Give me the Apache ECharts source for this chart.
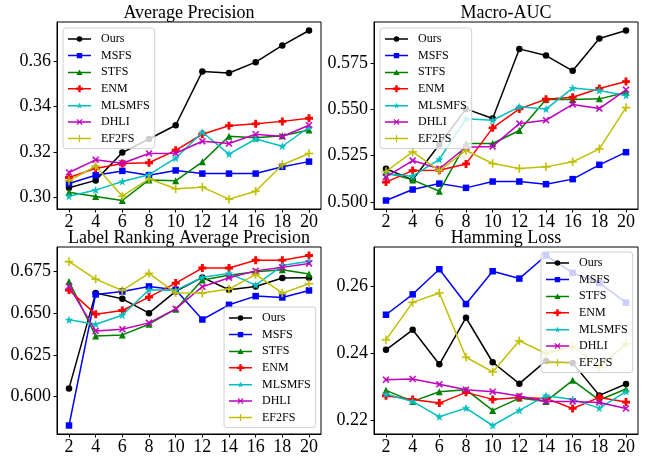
<!DOCTYPE html>
<html><head><meta charset="utf-8">
<script src="https://cdn.jsdelivr.net/npm/echarts@6/dist/echarts.min.js"></script>
<style>html,body{margin:0;padding:0;background:#fff}#c{width:650px;height:459px}</style>
</head><body><div id="c"></div>
<script>
const xValues = [2, 4, 6, 8, 10, 12, 14, 16, 18, 20];
const methods = ['Ours', 'MSFS', 'STFS', 'ENM', 'MLSMFS', 'DHLI', 'EF2FS'];

// Average Precision
const apOurs   = [0.3041, 0.3074, 0.3197, 0.3257, 0.3318, 0.3556, 0.3549, 0.3597, 0.3671, 0.3737];
const apMSFS   = [0.3060, 0.3097, 0.3116, 0.3097, 0.3118, 0.3104, 0.3104, 0.3104, 0.3134, 0.3157];
const apSTFS   = [0.3022, 0.3003, 0.2985, 0.3076, 0.3072, 0.3156, 0.3269, 0.3263, 0.3271, 0.3297];
const apENM    = [0.3087, 0.3127, 0.3149, 0.3152, 0.3207, 0.3278, 0.3316, 0.3324, 0.3335, 0.3349];
const apMLSMFS = [0.3004, 0.3031, 0.3069, 0.3099, 0.3172, 0.3287, 0.3190, 0.3257, 0.3225, 0.3309];
const apDHLI   = [0.3109, 0.3165, 0.3150, 0.3193, 0.3194, 0.3247, 0.3237, 0.3278, 0.3268, 0.3318];
const apEF2FS  = [0.3072, 0.3137, 0.3004, 0.3081, 0.3037, 0.3044, 0.2991, 0.3026, 0.3143, 0.3193];

// Macro-AUC
const aucOurs   = [0.5180, 0.5120, 0.5310, 0.5502, 0.5450, 0.5825, 0.5789, 0.5707, 0.5881, 0.5924];
const aucMSFS   = [0.5009, 0.5068, 0.5100, 0.5077, 0.5111, 0.5111, 0.5097, 0.5124, 0.5201, 0.5269];
const aucSTFS   = [0.5160, 0.5120, 0.5059, 0.5316, 0.5316, 0.5386, 0.5553, 0.5553, 0.5556, 0.5590];
const aucENM    = [0.5108, 0.5170, 0.5172, 0.5206, 0.5400, 0.5502, 0.5554, 0.5565, 0.5612, 0.5649];
const aucMLSMFS = [0.5150, 0.5140, 0.5230, 0.5449, 0.5441, 0.5513, 0.5501, 0.5614, 0.5601, 0.5574];
const aucDHLI   = [0.5136, 0.5224, 0.5180, 0.5296, 0.5300, 0.5423, 0.5441, 0.5526, 0.5504, 0.5605];
const aucEF2FS  = [0.5165, 0.5271, 0.5170, 0.5278, 0.5208, 0.5181, 0.5190, 0.5217, 0.5287, 0.5509];

// Label Ranking Average Precision
const lrOurs   = [0.6050, 0.6620, 0.6586, 0.6500, 0.6630, 0.6714, 0.6640, 0.6660, 0.6710, 0.6712];
const lrMSFS   = [0.5828, 0.6612, 0.6630, 0.6660, 0.6640, 0.6462, 0.6550, 0.6602, 0.6594, 0.6636];
const lrSTFS   = [0.6690, 0.6364, 0.6370, 0.6434, 0.6524, 0.6698, 0.6727, 0.6748, 0.6760, 0.6734];
const lrENM    = [0.6638, 0.6494, 0.6516, 0.6596, 0.6680, 0.6770, 0.6770, 0.6817, 0.6817, 0.6845];
const lrMLSMFS = [0.6460, 0.6434, 0.6488, 0.6640, 0.6636, 0.6715, 0.6738, 0.6668, 0.6785, 0.6810];
const lrDHLI   = [0.6660, 0.6394, 0.6404, 0.6442, 0.6526, 0.6658, 0.6712, 0.6753, 0.6774, 0.6797];
const lrEF2FS  = [0.6808, 0.6704, 0.6636, 0.6738, 0.6622, 0.6620, 0.6644, 0.6732, 0.6620, 0.6676];

// Hamming Loss
const hlOurs   = [0.2411, 0.2471, 0.2368, 0.2507, 0.2374, 0.2310, 0.2378, 0.2372, 0.2275, 0.2309];
const hlMSFS   = [0.2516, 0.2577, 0.2652, 0.2548, 0.2646, 0.2624, 0.2693, 0.2641, 0.2611, 0.2552];
const hlSTFS   = [0.2290, 0.2257, 0.2286, 0.2292, 0.2230, 0.2267, 0.2257, 0.2320, 0.2261, 0.2294];
const hlENM    = [0.2274, 0.2263, 0.2252, 0.2284, 0.2263, 0.2269, 0.2266, 0.2236, 0.2269, 0.2255];
const hlMLSMFS = [0.2279, 0.2257, 0.2211, 0.2237, 0.2185, 0.2230, 0.2274, 0.2263, 0.2237, 0.2286];
const hlDHLI   = [0.2322, 0.2324, 0.2308, 0.2292, 0.2286, 0.2273, 0.2257, 0.2257, 0.2254, 0.2236];
const hlEF2FS  = [0.2441, 0.2553, 0.2581, 0.2389, 0.2345, 0.2438, 0.2400, 0.2421, 0.2359, 0.2429];

const apTicks = [0.30, 0.32, 0.34, 0.36];
const aucTicks = [0.500, 0.525, 0.550, 0.575];
const lrTicks = [0.600, 0.625, 0.650, 0.675];
const hlTicks = [0.22, 0.24, 0.26];

const FONT = "'Liberation Serif','DejaVu Serif',serif";
const colors = {Ours:'#000000', MSFS:'#0000ff', STFS:'#008000', ENM:'#ff0000', MLSMFS:'#00bfbf', DHLI:'#bf00bf', EF2FS:'#bfbf00'};
const symbols = {
  Ours: ['circle', 6.5],
  MSFS: ['rect', 6.5],
  STFS: ['triangle', 7],
  ENM: ['path://M1.6,0H3.4V1.6H5V3.4H3.4V5H1.6V3.4H0V1.6H1.6Z', 8],
  MLSMFS: ['path://M2.5,0L3.1,1.8L5,1.8L3.45,2.95L4.05,4.75L2.5,3.65L0.95,4.75L1.55,2.95L0,1.8L1.9,1.8Z', 7],
  DHLI: ['path://M0,0.65L0.65,0L2.5,1.85L4.35,0L5,0.65L3.15,2.5L5,4.35L4.35,5L2.5,3.15L0.65,5L0,4.35L1.85,2.5Z', 6.5],
  EF2FS: ['path://M2.15,0H2.85V2.15H5V2.85H2.85V5H2.15V2.85H0V2.15H2.15Z', 8]
};
// legend handles: line + marker, drawn in a 230 x 80 box (0.1 px units)
const LINE = 'M0,32.5H115V47.5H0Z M115,32.5H230V47.5H115Z ';
const legendMarks = {
  Ours: 'M87,40A28,28 0 1 1 143,40A28,28 0 1 1 87,40Z',
  MSFS: 'M88,13H142V67H88Z',
  STFS: 'M115,10L146,64L84,64Z',
  ENM: 'M103,5H127V28H150V52H127V75H103V52H80V28H103Z',
  MLSMFS: 'M115,7L122.6,29.5L146.4,29.8L127.4,44L134.4,66.7L115,53L95.6,66.7L102.6,44L83.6,29.8L107.4,29.5Z',
  DHLI: 'M85,18.5L93.5,10L115,31.5L136.5,10L145,18.5L123.5,40L145,61.5L136.5,70L115,48.5L93.5,70L85,61.5L106.5,40Z',
  EF2FS: 'M109,5H121V34H150V46H121V75H109V46H80V34H109Z'
};

const panels = [
  {title:'Average Precision', data:[apOurs, apMSFS, apSTFS, apENM, apMLSMFS, apDHLI, apEF2FS], ticks:apTicks, dec:2,
   grid:{left:57, top:22}, legend:{left:63, top:28}},
  {title:'Macro-AUC', data:[aucOurs, aucMSFS, aucSTFS, aucENM, aucMLSMFS, aucDHLI, aucEF2FS], ticks:aucTicks, dec:3,
   grid:{left:374, top:22}, legend:{left:380, top:28}},
  {title:'Label Ranking Average Precision', data:[lrOurs, lrMSFS, lrSTFS, lrENM, lrMLSMFS, lrDHLI, lrEF2FS], ticks:lrTicks, dec:3,
   grid:{left:57, top:247}, legend:{left:224, top:307}},
  {title:'Hamming Loss', data:[hlOurs, hlMSFS, hlSTFS, hlENM, hlMLSMFS, hlDHLI, hlEF2FS], ticks:hlTicks, dec:2,
   grid:{left:374, top:247}, legend:{left:541, top:252}}
];
const GW = 264, GH = 187;

const option = {animation:false, backgroundColor:'#fff', title:[], grid:[], xAxis:[], yAxis:[], legend:[], series:[]};
panels.forEach((p, pi) => {
  const all = [].concat(...p.data);
  const mn = Math.min(...all), mx = Math.max(...all), pad = (mx - mn) * 0.05;
  option.grid.push({left:p.grid.left, top:p.grid.top, width:GW, height:GH, show:true, borderColor:'#000', borderWidth:1, backgroundColor:'transparent', containLabel:false});
  option.title.push({text:p.title, left:p.grid.left + GW/2, top:p.grid.top - 17.5, textAlign:'center', padding:0,
    textStyle:{fontFamily:FONT, fontSize:18, fontWeight:'normal', color:'#000'}});
  option.xAxis.push({type:'value', gridIndex:pi, min:1.1, max:20.9,
    axisLine:{show:true, onZero:false, lineStyle:{color:'#000', width:1}},
    axisTick:{show:true, length:3.5, customValues:xValues, lineStyle:{color:'#000'}},
    axisLabel:{customValues:xValues, margin:4, fontFamily:FONT, fontSize:18, color:'#000'},
    splitLine:{show:false}});
  option.yAxis.push({type:'value', gridIndex:pi, min:mn - pad, max:mx + pad,
    axisLine:{show:true, onZero:false, lineStyle:{color:'#000', width:1}},
    axisTick:{show:true, length:3.5, customValues:p.ticks, lineStyle:{color:'#000'}},
    axisLabel:{customValues:p.ticks, margin:6, fontFamily:FONT, fontSize:18, color:'#000', formatter:v => Number(v).toFixed(p.dec)},
    splitLine:{show:false}});
  option.legend.push({data:methods.map(m => ({name:m, icon:'path://' + LINE + legendMarks[m]})),
    orient:'vertical', left:p.legend.left, top:p.legend.top,
    itemWidth:23, itemHeight:8, itemGap:2.6, padding:[4,5,3,5], symbolKeepAspect:true,
    itemStyle:{borderWidth:0},
    backgroundColor:'rgba(255,255,255,0.8)', borderColor:'#d0d0d0', borderWidth:1, borderRadius:3,
    textStyle:{fontFamily:FONT, fontSize:12, color:'#000', lineHeight:14, padding:[0,0,0,5]}, selectedMode:false});
  methods.forEach((m, mi) => {
    const s = symbols[m];
    const stroke = (m === 'DHLI' || m === 'EF2FS' || m === 'MLSMFS');
    option.series.push({type:'line', name:m, xAxisIndex:pi, yAxisIndex:pi,
      data:xValues.map((x, i) => [x, p.data[mi][i]]),
      symbol:s[0], symbolSize:s[1], showSymbol:true, showAllSymbol:true,
      lineStyle:{color:colors[m], width:1.5},
      itemStyle:{color:colors[m], borderColor:colors[m], borderWidth:stroke ? 0.5 : 0},
      emphasis:{disabled:true}, z:2 + mi * 0.01});
  });
});
const chart = echarts.init(document.getElementById('c'), null, {renderer:'canvas'});
chart.setOption(option);
</script>
</body></html>
